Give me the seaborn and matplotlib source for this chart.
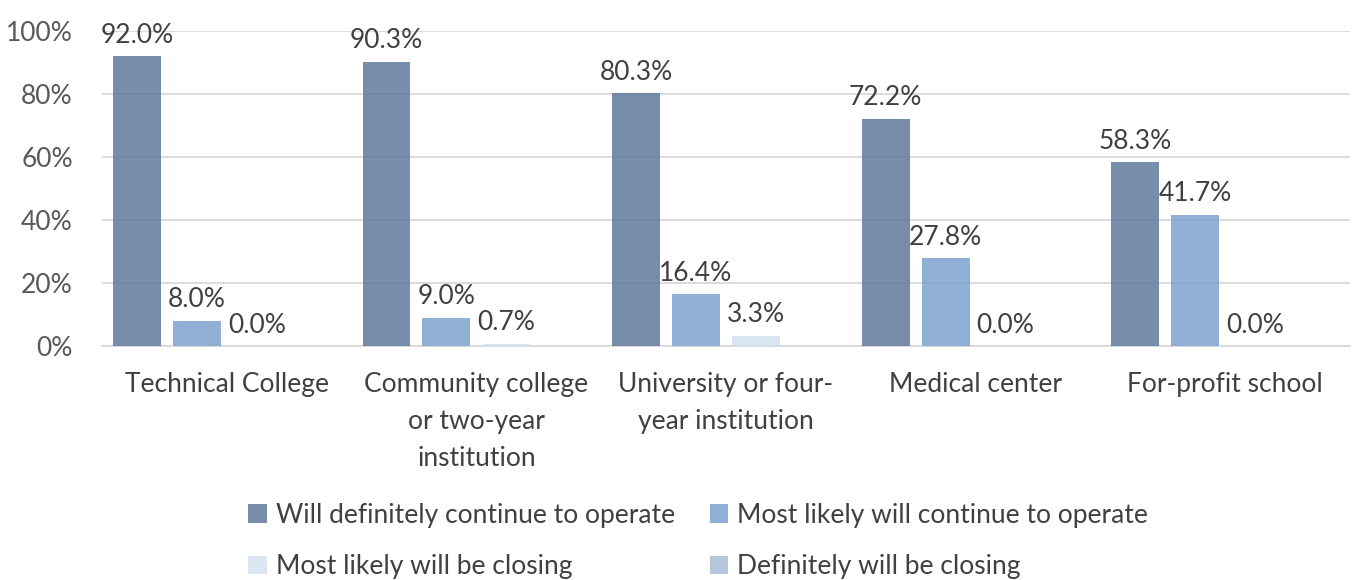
import numpy as np
import pandas as pd
import matplotlib
matplotlib.use("Agg")
import matplotlib.pyplot as plt
import seaborn as sns
from matplotlib.patches import Patch

categories = [
    "Technical College",
    "Community college\nor two-year\ninstitution",
    "University or four-\nyear institution",
    "Medical center",
    "For-profit school",
]
series_names = [
    "Will definitely continue to operate",
    "Most likely will continue to operate",
    "Most likely will be closing",
    "Definitely will be closing",
]
definitely_continue = [92.0, 90.3, 80.3, 72.2, 58.3]
likely_continue = [8.0, 9.0, 16.4, 27.8, 41.7]
likely_closing = [0.0, 0.7, 3.3, 0.0, 0.0]
definitely_closing = [np.nan, np.nan, np.nan, np.nan, np.nan]
y_ticks = [0, 20, 40, 60, 80, 100]

colors = ["#60799c", "#7ea2cf", "#d5e2f1", "#a9bbd9"]
bar_alpha = 0.85
text_color = "#404040"

sns.set_theme(style="white")
plt.rcParams["font.family"] = ["Lato", "DejaVu Sans"]

rows = []
for name, vals in zip(series_names,
                      [definitely_continue, likely_continue, likely_closing, definitely_closing]):
    for cat, v in zip(categories, vals):
        rows.append({"category": cat, "status": name, "value": v})
df = pd.DataFrame(rows)

fig = plt.figure(figsize=(13.52, 5.8), dpi=100)
ax = fig.add_axes([0.0754, 0.4034, 0.9231, 0.5432])

sns.barplot(data=df, x="category", y="value", hue="status",
            order=categories, hue_order=series_names,
            palette=colors, saturation=1, width=0.96, gap=0.2, alpha=bar_alpha,
            linewidth=0, errorbar=None, legend=False, ax=ax, zorder=2)

ax.set_ylim(0, 100)
ax.set_yticks(y_ticks)
ax.set_yticklabels([f"{t}%" for t in y_ticks])
ax.set_xlim(-0.5, len(categories) - 0.5)
ax.yaxis.grid(True, color="#d9d9d9", linewidth=1.3, zorder=1)
ax.set_axisbelow(True)
for s in ["top", "right", "left"]:
    ax.spines[s].set_visible(False)
ax.spines["bottom"].set_color("#d9d9d9")
ax.spines["bottom"].set_linewidth(1.3)
ax.spines["bottom"].set_zorder(1)
ax.set_xlabel("")
ax.set_ylabel("")
ax.tick_params(axis="y", length=0, labelsize=19, colors="#595959", pad=21)
ax.tick_params(axis="x", length=0, labelsize=19, colors=text_color, pad=19)
for lbl in ax.get_xticklabels():
    lbl.set_linespacing(1.58)

for cont in ax.containers[:3]:
    labels = ax.bar_label(cont, fmt="%.1f%%", padding=6, fontsize=19,
                          color=text_color)
    for t in labels:
        t.set_clip_on(False)

# legend entries laid out row by row (matplotlib fills columns first)
handles = [Patch(facecolor=c, alpha=bar_alpha, linewidth=0) for c in colors]
order = [0, 2, 1, 3]
fig.legend([handles[i] for i in order], [series_names[i] for i in order],
           loc="center", ncol=2, frameon=False,
           bbox_to_anchor=(0.5165, 0.067), fontsize=19,
           labelcolor=text_color, handlelength=0.7, handleheight=0.7,
           handletextpad=0.35, columnspacing=1.3, labelspacing=1.0)

fig.savefig("out.png", dpi=100)
